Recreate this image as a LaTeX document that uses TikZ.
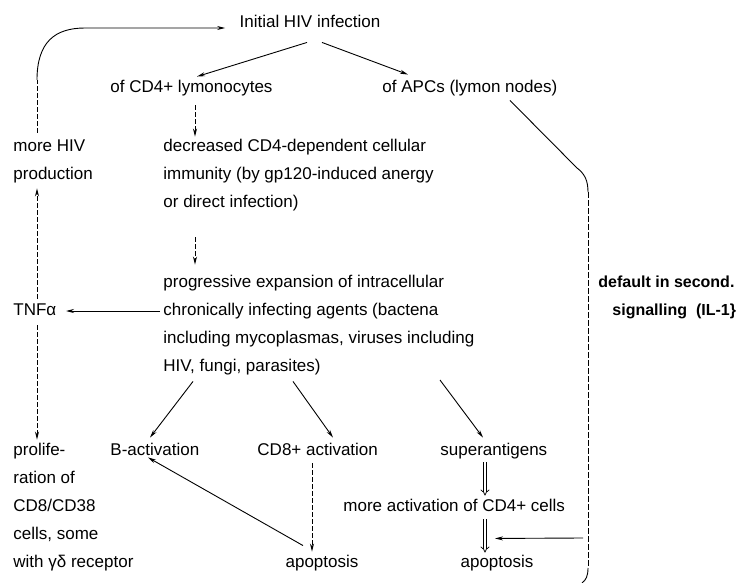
\documentclass[tikz,border=0pt]{standalone}
\usepackage{fontspec}
\setmainfont{Liberation Sans}
\usetikzlibrary{arrows.meta,calc}

\begin{document}
\begin{tikzpicture}[x=1pt,y=-1pt,line width=0.9pt,
  every node/.style={font=\fontsize{17}{20}\selectfont,inner sep=0pt,
    anchor=west,text height=12.5pt,text depth=3.5pt},
  boldtxt/.style={font=\fontsize{16}{19}\selectfont\bfseries},
  arr/.style={-{Stealth[length=8pt,width=4pt]}},
  dasharr/.style={arr,dash pattern=on 5pt off 2pt},
  dbl/.style={double,double distance=2.4pt,line width=0.7pt,
    -{Implies[length=6pt]}}]
  \useasboundingbox (0,0) rectangle (742,583);
  % top
  \node[anchor=center] (init) at (310,23) {Initial HIV infection};
  \node (cd4) at (110,88) {of CD4+ lymonocytes};
  \node (apc) at (382,88) {of APCs (lymon nodes)};
  % left column
  \node (hiv1) at (13,147) {more HIV};
  \node (hiv2) at (13,175) {production};
  \node (tnf) at (13,311) {TNFα};
  \node (pro1) at (13,451) {prolife-};
  \node (pro2) at (13,479) {ration of};
  \node (pro3) at (13,507) {CD8/CD38};
  \node (pro4) at (13,535) {cells, some};
  \node (pro5) at (13,563) {with γδ receptor};
  % middle column
  \node (dec1) at (163,147) {decreased CD4-dependent cellular};
  \node (dec2) at (163,175) {immunity (by gp120-induced anergy};
  \node (dec3) at (163,203) {or direct infection)};
  \node (exp1) at (163,283) {progressive expansion of intracellular};
  \node (exp2) at (163,311) {chronically infecting agents (bactena};
  \node (exp3) at (163,339) {including mycoplasmas, viruses including};
  \node (exp4) at (163,367) {HIV, fungi, parasites)};
  \node (bact) at (110,451) {B-activation};
  \node (cd8) at (257,451) {CD8+ activation};
  \node (sag) at (440,451) {superantigens};
  \node (more) at (343,507) {more activation of CD4+ cells};
  \node[anchor=center] (apo1) at (322,563) {apoptosis};
  \node[anchor=center] (apo2) at (497,563) {apoptosis};
  % right side
  \node[boldtxt] (def1) at (598,283) {default in second.};
  \node[boldtxt] (def2) at (612,311) {signalling\ \ (IL-1\}};
  \coordinate (rt) at (588,192);
  \coordinate (rb) at (588,568);
  \coordinate (sig) at (583,538);

  % connectors
  \draw[dash pattern=on 5pt off 2pt] ($(hiv1.north west)+(24,-6)$) -- (37,80);
  \draw[arr] (37,80) .. controls (37,42) and (55,28) .. (85,28)
    -- ($(init.west)+(-14,5)$);
  \draw[arr] ($(init.south)+(-3,11)$) -- ($(cd4.north west)+(87,-3)$);
  \draw[arr] ($(init.south)+(12,11)$) -- ($(apc.north west)+(26,-5)$);
  \draw[dasharr] ($(cd4.south west)+(85,9)$) -- ($(dec1.north west)+(32,-2)$);
  \draw[dasharr] ($(dec3.south west)+(32,26)$) -- ($(exp1.north west)+(32,-10)$);
  \draw[arr] ($(exp2.west)+(-3,0)$) -- ($(tnf.west)+(53,0)$);
  \draw[dasharr] ($(tnf.north west)+(24,-4)$) -- ($(hiv2.south west)+(24,5)$);
  \draw[dasharr] ($(tnf.south west)+(24,6)$) -- ($(pro1.north west)+(24,-3)$);
  \draw[arr] ($(exp4.south west)+(30,6)$) -- ($(bact.north west)+(40,-5)$);
  \draw[arr] ($(exp4.south west)+(130,6)$) -- ($(cd8.north west)+(76,-5)$);
  \draw[arr] ($(exp4.west)+(277,13)$) -- ($(sag.north west)+(43,-5)$);
  \draw[dbl] ($(sag.south west)+(45,3)$) -- ($(more.north west)+(142,-3)$);
  \draw[dbl] ($(more.south west)+(142,4)$) -- ($(apo2.north)+(-12,-2)$);
  \draw[dasharr] ($(cd8.south west)+(55,4)$) -- ($(apo1.north)+(-10,-3)$);
  \draw[arr] ($(apo1.north)+(-19,-9)$) -- ($(bact.south west)+(38,-2)$);
  \draw ($(apc.south west)+(128,4)$) -- (577,168)
    .. controls (585,174) and (588,181) .. (rt);
  \draw[dash pattern=on 6pt off 2pt] (rt) -- (rb);
  \draw (rb) .. controls (588,576) and (586,580) .. (582,583);
  \draw[arr] (sig) -- ($(more.south west)+(152,23)$);
\end{tikzpicture}
\end{document}
